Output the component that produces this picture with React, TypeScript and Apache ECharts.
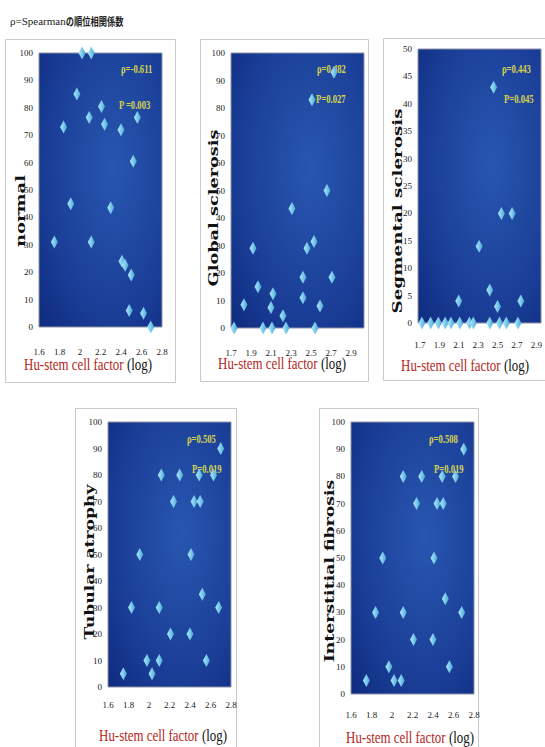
import React, { useEffect, useRef } from "react";
import * as echarts from "echarts";

// ---- data ----
const xTicksA = [1.6, 1.8, 2, 2.2, 2.4, 2.6, 2.8];
const xTicksB = [1.7, 1.9, 2.1, 2.3, 2.5, 2.7, 2.9];

const normalX = [2.02, 2.11, 1.97, 2.21, 2.09, 2.24, 1.84, 2.40, 2.56, 2.52, 1.91, 2.30, 1.75, 2.11, 2.41, 2.44, 2.50, 2.48, 2.62, 2.69];
const normalY = [100, 100, 85, 80.5, 76.5, 74, 73, 72, 76.5, 60.5, 45, 43.5, 31, 31, 24, 22.5, 19, 6, 5, 0];

const globalX = [2.73, 2.51, 2.66, 2.31, 1.92, 2.53, 2.46, 1.97, 2.42, 2.71, 2.12, 2.10, 1.83, 2.42, 2.59, 2.22, 1.73, 2.02, 2.11, 2.25, 2.54];
const globalY = [93, 83, 50, 43.5, 29, 31.5, 29, 15, 18.5, 18.5, 12.5, 7.5, 8.5, 11, 8, 4.5, 0, 0, 0, 0, 0];

const segmentalX = [1.72, 1.81, 1.89, 1.96, 2.02, 2.11, 2.21, 2.25, 2.42, 2.52, 2.59, 2.71, 2.46, 2.54, 2.65, 2.31, 2.42, 2.10, 2.50, 2.74];
const segmentalY = [0, 0, 0, 0, 0, 0, 0, 0, 0, 0, 0, 0, 43, 20, 20, 14, 6, 4, 3, 4];

const tubularX = [2.70, 2.12, 2.30, 2.49, 2.63, 2.24, 2.44, 2.50, 1.91, 2.41, 2.52, 1.83, 2.10, 2.68, 2.21, 2.40, 1.98, 2.10, 2.56, 1.75, 2.03];
const tubularY = [90, 80, 80, 80, 80, 70, 70, 70, 50, 50, 35, 30, 30, 30, 20, 20, 10, 10, 10, 5, 5];

const interstitialX = [2.70, 2.11, 2.29, 2.49, 2.62, 2.24, 2.44, 2.50, 1.91, 2.41, 2.52, 1.84, 2.11, 2.68, 2.21, 2.40, 1.97, 2.56, 1.75, 2.02, 2.09];
const interstitialY = [90, 80, 80, 80, 80, 70, 70, 70, 50, 50, 35, 30, 30, 30, 20, 20, 10, 10, 5, 5, 5];

const yTitles = ["normal", "Global sclerosis", "Segmental sclerosis", "Tubular atrophy", "Interstitial fibrosis"];
const rhoLabels = ["ρ=-0.611", "ρ=0.482", "ρ=0.443", "ρ=0.505", "ρ=0.508"];
const pLabels = ["P =0.003", "P=0.027", "P=0.045", "P=0.019", "P=0.019"];
const xTitle = "Hu-stem cell factor";
const header = "ρ=Spearman";
const headerJa = "の順位相関係数";

// ---- layout ----
const panels = [
  { xs: normalX, ys: normalY, grid: { left: 39, top: 53, width: 123, height: 274 }, xmin: 1.6, xmax: 2.8, ymax: 100, yint: 10, ticks: xTicksA, xMargin: 20,
    frame: [5, 39, 170, 343], yT: [21.5, 211, 72], xT: [88, 364], rho: [121, 69], p: [119, 105] },
  { xs: globalX, ys: globalY, grid: { left: 231, top: 53, width: 133, height: 275 }, xmin: 1.7, xmax: 3.03, ymax: 100, yint: 10, ticks: xTicksB, xMargin: 20,
    frame: [200, 39, 168, 342], yT: [214, 208, 157], xT: [282, 363], rho: [317, 69], p: [316, 99] },
  { xs: segmentalX, ys: segmentalY, grid: { left: 418, top: 49, width: 125, height: 274 }, xmin: 1.68, xmax: 2.948, ymax: 50, yint: 5, ticks: xTicksB, xMargin: 17,
    frame: [383, 38, 175, 342], yT: [398, 211, 205], xT: [465, 365], rho: [502, 69], p: [504, 99] },
  { xs: tubularX, ys: tubularY, grid: { left: 108, top: 422, width: 123, height: 265 }, xmin: 1.6, xmax: 2.8, ymax: 100, yint: 10, ticks: xTicksA, xMargin: 13,
    frame: [75, 408, 161, 350], yT: [90, 562, 155], xT: [163, 735], rho: [187, 439], p: [192, 469] },
  { xs: interstitialX, ys: interstitialY, grid: { left: 351, top: 422, width: 123, height: 272 }, xmin: 1.6, xmax: 2.8, ymax: 100, yint: 10, ticks: xTicksA, xMargin: 16,
    frame: [319, 408, 159, 350], yT: [329.5, 571, 183], xT: [410, 737], rho: [429, 439], p: [434, 469] },
];

const SERIF = "'Liberation Serif', 'Times New Roman', serif";

function measure(text: string, font: string): number {
  const ctx = document.createElement("canvas").getContext("2d");
  if (!ctx) return text.length * 7;
  ctx.font = font;
  return ctx.measureText(text).width;
}

export default function App() {
  const ref = useRef<HTMLDivElement>(null);
  useEffect(() => {
    if (!ref.current) return;
    const chart = echarts.init(ref.current, undefined, { renderer: "svg" });

    const bg = () =>
      new echarts.graphic.RadialGradient(0.6, 0.42, 0.85, [
        { offset: 0, color: "#2857b0" },
        { offset: 0.6, color: "#1b3f98" },
        { offset: 1, color: "#0e2a7e" },
      ]);
    const dia = () =>
      new echarts.graphic.LinearGradient(0, 0, 1, 0, [
        { offset: 0, color: "#b0e6fa" },
        { offset: 0.5, color: "#7ccbec" },
        { offset: 1, color: "#4aa4d4" },
      ]);

    const tickFont = { fontSize: 9, fontFamily: SERIF, color: "#1a1a1a" };
    const graphic: any[] = [];

    // header
    graphic.push({
      type: "text", x: 10, y: 21, z: 10,
      style: { text: header, fontSize: 11, fontFamily: SERIF, fill: "#222", textVerticalAlign: "middle" },
    });
    const hw = measure(header, "11px " + SERIF);
    graphic.push({
      type: "text", x: 10 + hw, y: 21, z: 10, scaleX: 0.75,
      style: { text: headerJa, fontSize: 11, fontWeight: "bold", fontFamily: "'Noto Sans CJK JP', sans-serif", fill: "#222", textVerticalAlign: "middle" },
    });

    panels.forEach((p, i) => {
      const [fx, fy, fw, fh] = p.frame;
      graphic.push({ type: "rect", z: -1, shape: { x: fx + 0.5, y: fy + 0.5, width: fw, height: fh }, style: { fill: "none", stroke: "#c9c9c9", lineWidth: 1 } });
      // y title
      const yFont = "bold 12px 'DejaVu Serif'";
      const yw = measure(yTitles[i], yFont);
      graphic.push({
        type: "text", x: p.yT[0], y: p.yT[1], rotation: Math.PI / 2, scaleX: p.yT[2] / yw, z: 10,
        style: { text: yTitles[i], fontSize: 12, fontWeight: "bold", fontFamily: "'DejaVu Serif', serif", fill: "#111", textAlign: "center", textVerticalAlign: "middle" },
      });
      // x title
      const xw = measure(xTitle + " (log)", "16px " + SERIF);
      graphic.push({
        type: "text", x: p.xT[0], y: p.xT[1], scaleX: 128 / xw, z: 10,
        style: {
          text: "{r|" + xTitle + "} {k|(log)}",
          textAlign: "center", textVerticalAlign: "middle",
          fontSize: 16, fontFamily: SERIF,
          rich: {
            r: { fill: "#b3261c", fontSize: 16, fontFamily: SERIF },
            k: { fill: "#111", fontSize: 16, fontFamily: SERIF },
          },
        },
      });
      // stats
      const st = { fontSize: 12, fontWeight: "bold", fontFamily: SERIF, fill: "#d6d24e", textVerticalAlign: "middle" };
      graphic.push({ type: "text", x: p.rho[0], y: p.rho[1], scaleX: 0.72, z: 1, style: { ...st, text: rhoLabels[i] } });
      graphic.push({ type: "text", x: p.p[0], y: p.p[1], scaleX: 0.72, z: 1, style: { ...st, text: pLabels[i] } });
    });

    const option: any = {
      animation: false,
      grid: panels.map((p) => ({ ...p.grid, show: true, backgroundColor: bg(), borderColor: "#8d93a6", borderWidth: 1, containLabel: false })),
      xAxis: panels.map((p, i) => ({
        type: "value", gridIndex: i, min: p.xmin, max: p.xmax,
        axisLine: { show: false }, axisTick: { show: false }, splitLine: { show: false },
        axisLabel: { customValues: p.ticks, margin: p.xMargin, ...tickFont, showMinLabel: true, showMaxLabel: true },
      })),
      yAxis: panels.map((p, i) => ({
        type: "value", gridIndex: i, min: 0, max: p.ymax, interval: p.yint,
        axisLine: { show: false }, axisTick: { show: false }, splitLine: { show: false },
        axisLabel: { margin: 6, ...tickFont },
      })),
      series: panels.map((p, i) => ({
        type: "scatter", xAxisIndex: i, yAxisIndex: i, clip: false, z: 5,
        symbol: "diamond", symbolSize: [7, 13],
        itemStyle: { color: dia(), opacity: 1 },
        data: p.xs.map((x, k) => [x, p.ys[k]]),
      })),
      graphic,
    };
    chart.setOption(option);
    return () => chart.dispose();
  }, []);
  return <div ref={ref} style={{ position: "fixed", left: 0, top: 0, width: 545, height: 747, background: "#fff" }} />;
}
